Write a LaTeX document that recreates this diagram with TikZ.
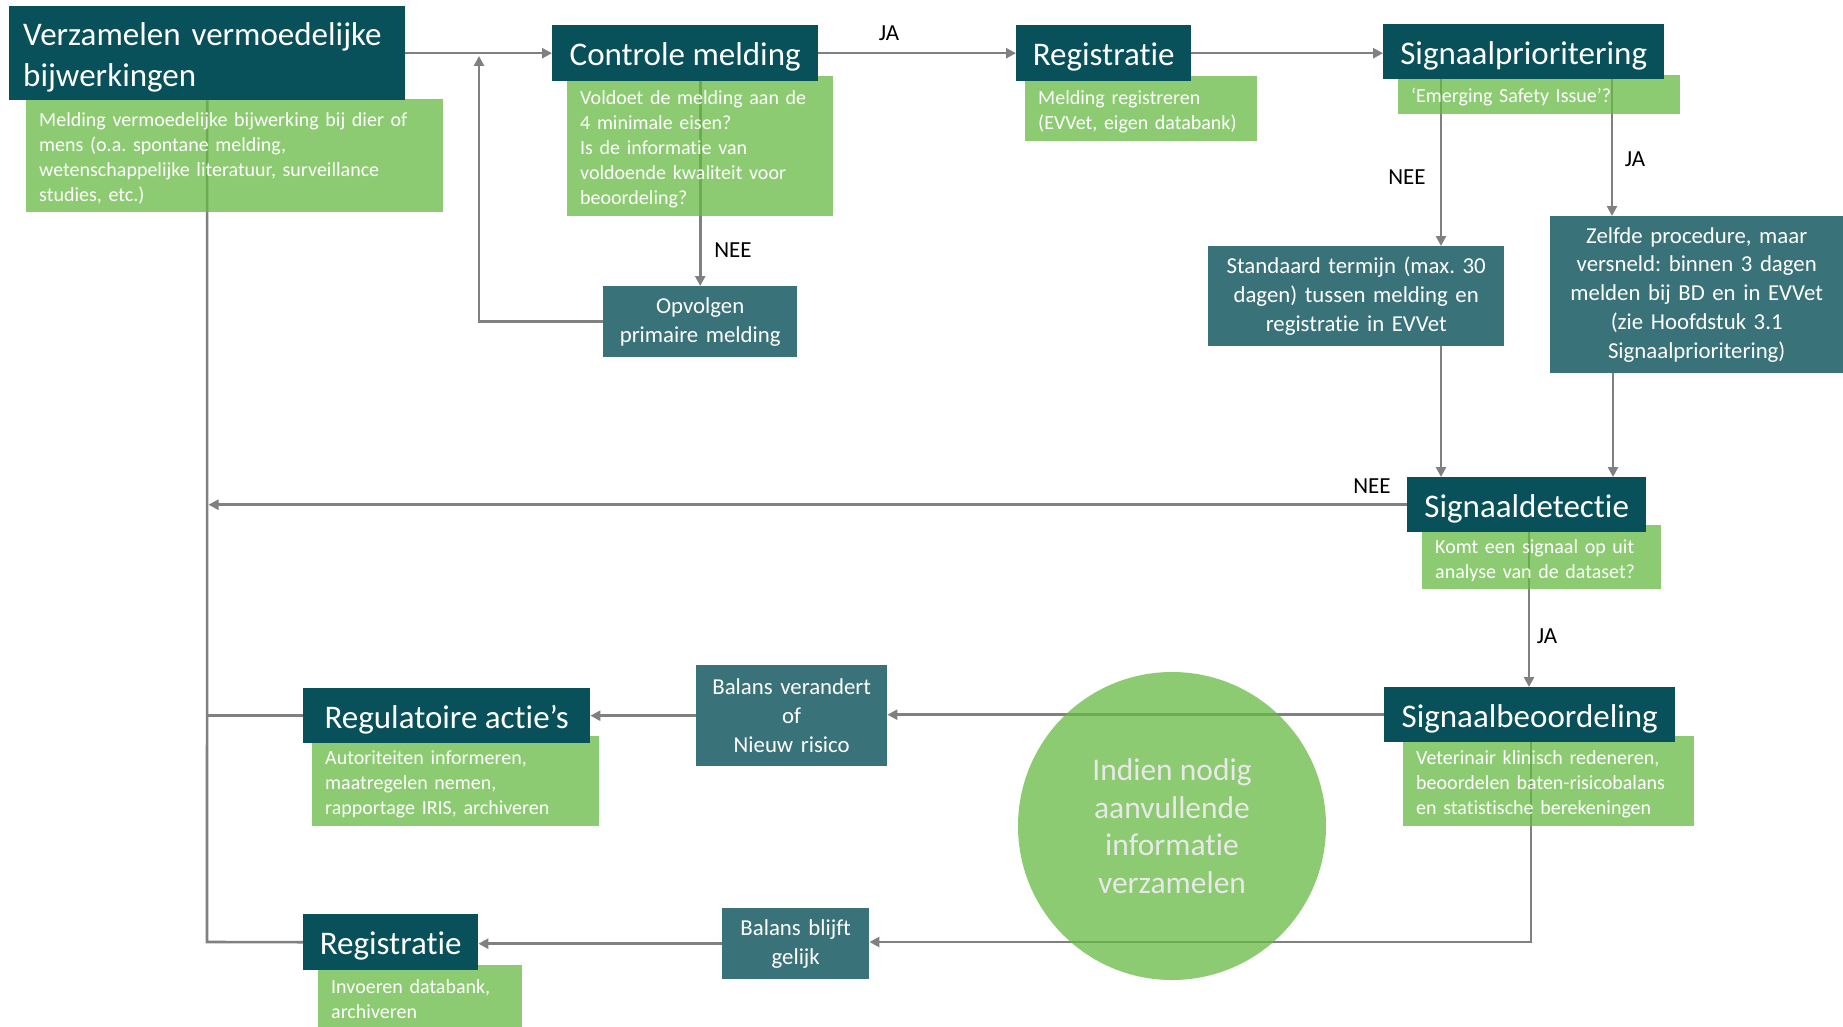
\documentclass[tikz,border=0pt]{standalone}
\usepackage{fontspec}
\setmainfont{Carlito}[Ligatures=NoCommon]
\usetikzlibrary{arrows.meta}
\definecolor{darkteal}{RGB}{8,80,90}
\definecolor{midteal}{RGB}{57,114,121}
\definecolor{gbase}{RGB}{103,186,68}
\definecolor{linegray}{RGB}{128,128,128}
\definecolor{circtext}{RGB}{232,232,232}
\pgfdeclarelayer{bgfill}
\pgfdeclarelayer{bg}
\pgfsetlayers{bgfill,bg,main}
\frenchspacing
\newcommand{\gstrut}{\rule{0pt}{20pt}}
\begin{document}
\begin{tikzpicture}[x=1pt,y=-1pt,
  darkbox/.style={fill=darkteal, text=white, inner sep=0pt, anchor=north west,
    font=\fontsize{33}{37}\selectfont, text height=25pt, text depth=0pt},
  greenbox/.style={fill=gbase, fill opacity=0.75, text opacity=1, text=white,
    inner xsep=13pt, inner ysep=0pt, anchor=north west, align=left,
    font=\fontsize{20}{25}\selectfont},
  midbox/.style={fill=midteal, text=white, inner sep=0pt, anchor=north west,
    align=center, font=\fontsize{22.8}{28.7}\selectfont},
  lab/.style={text=black, inner sep=0pt, font=\fontsize{23}{26}\selectfont},
  conn/.style={draw=linegray, line width=2.6pt},
  arr/.style={conn, -{Triangle[length=10pt,width=10pt]}}
]
\begin{pgfonlayer}{bgfill}
\fill[white] (0,0) rectangle (1843,1027);
\end{pgfonlayer}
\useasboundingbox (0,0) rectangle (1843,1027);

% green description boxes
\node[greenbox, text width=391pt, minimum height=113pt] (vg) at (26,99)
  {\gstrut Melding vermoedelijke bijwerking bij dier of\\mens (o.a. spontane melding,\\wetenschappelijke literatuur, surveillance\\studies, etc.)};
\node[greenbox, text width=240pt, minimum height=140pt] (cg) at (567,76)
  {\gstrut Voldoet de melding aan de\\4 minimale eisen?\\Is de informatie van\\voldoende kwaliteit voor\\beoordeling?};
\node[greenbox, text width=206pt, minimum height=65pt] (rg) at (1025,76)
  {\gstrut Melding registreren\\(EVVet, eigen databank)};
\node[greenbox, text width=256pt, minimum height=39pt] (spg) at (1398,75)
  {\gstrut ‘Emerging Safety Issue’?};
\node[greenbox, text width=213pt, minimum height=64pt] (sdg) at (1422,525)
  {\gstrut Komt een signaal op uit\\analyse van de dataset?};
\node[greenbox, text width=265pt, minimum height=90pt] (sbg) at (1403,736)
  {\gstrut Veterinair klinisch redeneren,\\beoordelen baten-risicobalans\\en statistische berekeningen};
\node[greenbox, text width=261pt, minimum height=90pt] (rag) at (312,736)
  {\gstrut Autoriteiten informeren,\\maatregelen nemen,\\rapportage IRIS, archiveren};
\node[greenbox, text width=178pt, minimum height=62pt] (r2g) at (318,965)
  {\gstrut Invoeren databank,\\archiveren};

% circle
\node[circle, fill=gbase, fill opacity=0.75, text opacity=1, text=circtext,
  minimum size=308pt, inner sep=0pt, align=center,
  font=\fontsize{31.5}{37.5}\selectfont] (ci) at (1172,826)
  {Indien nodig\\aanvullende\\informatie\\verzamelen};

% dark title boxes
\node[fill=darkteal, text=white, anchor=north west, inner ysep=0pt, inner xsep=14pt,
  text width=368pt, align=left, minimum height=94pt,
  font=\fontsize{33}{41}\selectfont] (v) at (9,6)
  {\rule{0pt}{31pt}Verzamelen vermoedelijke\\bijwerkingen};
\node[darkbox, minimum width=266pt, minimum height=56pt] (c) at (552,25) {Controle melding};
\node[darkbox, minimum width=175pt, minimum height=56pt] (r) at (1016,25) {Registratie};
\node[darkbox, minimum width=281pt, minimum height=55pt] (sp) at (1383,24) {Signaalprioritering};
\node[darkbox, minimum width=239pt, minimum height=55pt] (sd) at (1407,477) {Signaaldetectie};
\node[darkbox, minimum width=291pt, minimum height=55pt] (sb) at (1384,687) {Signaalbeoordeling};
\node[darkbox, minimum width=287pt, minimum height=55pt] (ra) at (303,688) {Regulatoire actie’s};
\node[darkbox, minimum width=175pt, minimum height=56pt] (r2) at (303,914) {Registratie};

% medium boxes
\node[midbox, text width=194pt, minimum height=71pt] (o) at (603,286)
  {Opvolgen\\primaire melding};
\node[midbox, text width=296pt, minimum height=100pt] (st) at (1208,246)
  {Standaard termijn (max. 30\\dagen) tussen melding en\\registratie in EVVet};
\node[midbox, text width=293pt, minimum height=157pt] (ze) at (1550,216)
  {Zelfde procedure, maar\\versneld: binnen 3 dagen\\melden bij BD en in EVVet\\(zie Hoofdstuk 3.1\\Signaalprioritering)};
\node[midbox, text width=191pt, minimum height=101pt, font=\fontsize{22.8}{29}\selectfont] (bv) at (696,665)
  {Balans verandert\\of\\Nieuw risico};
\node[midbox, text width=147pt, minimum height=71pt] (bb) at (722,908)
  {Balans blijft\\gelijk};

% labels
\node[lab] (l1) at (889,33) {JA};
\node[lab] (l2) at (733,250) {NEE};
\node[lab] (l3) at (1407,177) {NEE};
\node[lab] (l4) at (1635,159) {JA};
\node[lab] (l5) at (1372,486) {NEE};
\node[lab] (l6) at (1547,636) {JA};

% junction coordinates
\coordinate (j1) at (479,56);
\coordinate (tb) at (207,942);
\coordinate (sbd) at (1531,942);

\begin{pgfonlayer}{bg}
\draw[arr] (v.east) -- (c.west);
\draw[arr] (o.west) -| (j1);
\draw[arr] (c.east) -- (r.west);
\draw[arr] (c.south -| o.north) -- (o.north);
\draw[arr] (r.east) -- (r.east -| sp.west);
\draw[arr] ([xshift=58pt]sp.south west) -- ([xshift=58pt]sp.south west |- st.north);
\draw[arr] ([xshift=229pt]sp.south west) -- ([xshift=229pt]sp.south west |- ze.north);
\draw[arr] ([xshift=233pt]st.south west) -- ([xshift=233pt]st.south west |- sd.north);
\draw[arr] ([xshift=63pt]ze.south west) -- ([xshift=63pt]ze.south west |- sd.north);
\draw[arr] (sd.west) -- ([xshift=1.5pt]sd.west -| tb);
\draw[arr] ([xshift=122pt]sd.south west) -- ([xshift=122pt]sd.south west |- sb.north);
\draw[arr] (sb.west) -- (sb.west -| bv.east);
\draw[arr] (bv.west) -- (bv.west -| ra.east);
\draw[conn] (ra.west) -- (ra.west -| tb);
\draw[arr] (sb.south -| sbd) -- (sbd) -- (sbd -| bb.east);
\draw[arr] (bb.west) -- (bb.west -| r2.east);
\draw[conn] (r2.west) -- (tb) -- (v.south);
\end{pgfonlayer}
\end{tikzpicture}
\end{document}
